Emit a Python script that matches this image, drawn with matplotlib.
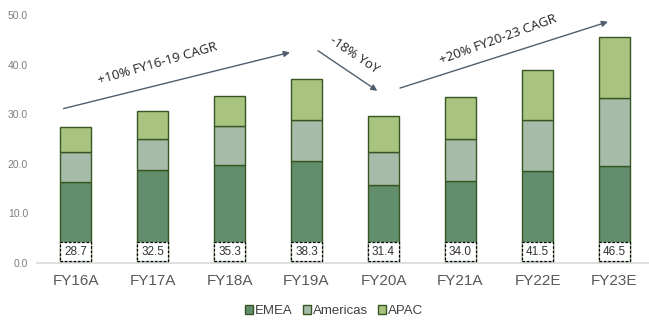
import matplotlib
matplotlib.use("Agg")
import matplotlib.pyplot as plt
from matplotlib.patches import Rectangle
import numpy as np

categories = ["FY16A", "FY17A", "FY18A", "FY19A", "FY20A", "FY21A", "FY22E", "FY23E"]
emea = [16.3, 18.8, 19.8, 20.5, 15.7, 16.5, 18.5, 19.6]
americas = [6.1, 6.3, 7.9, 8.4, 6.7, 8.4, 10.4, 13.6]
apac = [5.0, 5.5, 5.9, 8.1, 7.2, 8.5, 10.1, 12.4]
totals = ["28.7", "32.5", "35.3", "38.3", "31.4", "34.0", "41.5", "46.5"]
series_names = ["EMEA", "Americas", "APAC"]
yticks = [0, 10, 20, 30, 40, 50]

colors = ["#628E6E", "#A6BCA9", "#A9C47F"]
edge = "#375623"

fig = plt.figure(figsize=(6.49, 3.2), dpi=100)
ax = fig.add_axes([37/649, 57/320, (653-37)/649, 248/320])

x = np.arange(len(categories))
w = 0.39
bottom = np.zeros(len(categories))
for vals, c, name in zip([emea, americas, apac], colors, series_names):
    ax.bar(x, vals, w, bottom=bottom, color=c, edgecolor=edge, linewidth=1.0, label=name, zorder=2)
    bottom += np.array(vals)

for xi, t in zip(x, totals):
    ax.add_patch(Rectangle((xi - w/2, 0.45), w, 3.7, facecolor="white", edgecolor="black",
                           linestyle=(0, (2, 1.5)), linewidth=0.9, zorder=3))
    ax.text(xi, 2.3, t, ha="center", va="center", fontsize=8.5, color="#333333",
            family="Liberation Sans", zorder=4)

ax.set_xlim(-0.5, 7.5)
ax.set_ylim(0, 50)
ax.set_yticks(yticks)
ax.set_yticklabels([f"{v:.1f}" for v in yticks], fontsize=7.5, color="#7F7F7F", family="Liberation Sans")
ax.set_xticks(x)
ax.set_xticklabels(categories, fontsize=11, color="#595959", family="Liberation Sans")
ax.tick_params(axis="both", length=0)
ax.tick_params(axis="y", pad=6.5)
ax.tick_params(axis="x", pad=8)
for s in ["top", "right", "left"]:
    ax.spines[s].set_visible(False)
ax.spines["bottom"].set_color("#D9D9D9")
ax.spines["bottom"].set_linewidth(1.2)

arrow_kw = dict(arrowstyle="-|>", color="#4F5F6F", lw=1.0, mutation_scale=9)
ax.annotate("", xy=(2.82, 42.6), xytext=(-0.19, 31.0), arrowprops=arrow_kw, annotation_clip=False)
ax.annotate("", xy=(3.95, 34.4), xytext=(3.12, 43.1), arrowprops=arrow_kw, annotation_clip=False)
ax.annotate("", xy=(6.95, 48.8), xytext=(4.18, 35.1), arrowprops=arrow_kw, annotation_clip=False)

tk = dict(fontsize=9.5, color="#222222", family="Open Sans", ha="center", va="center", rotation_mode="anchor")
ax.text(1.06, 40.2, "+10% FY16-19 CAGR", rotation=16, **tk)
ax.text(3.62, 41.9, "-18% YoY", rotation=-34, **tk)
ax.text(5.49, 45.1, "+20% FY20-23 CAGR", rotation=20, **tk)

leg = fig.legend(loc="center", bbox_to_anchor=(334/649, 1 - 311/320), ncol=3, frameon=False,
                 handlelength=0.6, handleheight=0.6, handletextpad=0.15, columnspacing=0.8,
                 prop={"family": "Liberation Sans", "size": 9.5})
for t in leg.get_texts():
    t.set_color("#404040")

fig.savefig("out.png", dpi=100)
